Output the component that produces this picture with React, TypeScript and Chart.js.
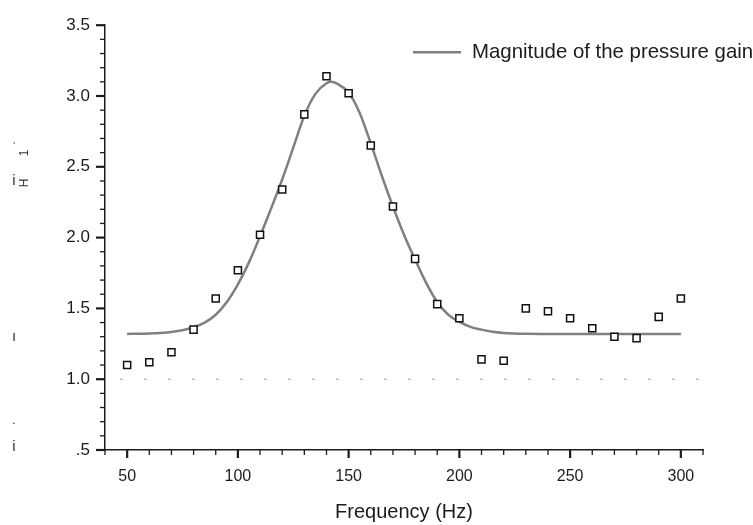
import React, { useEffect, useRef } from 'react';
import { Chart, registerables } from 'chart.js';

Chart.register(...registerables);

const FONT = '"Liberation Sans", Arial, Helvetica, sans-serif';
const TEXT_COLOR = '#1c1c1c';

// Measured points (squares)
const POINT_FREQ = [50, 60, 70, 80, 90, 100, 110, 120, 130, 140, 150, 160, 170, 180, 190, 200, 210, 220, 230, 240, 250, 260, 270, 280, 290, 300];
const POINT_GAIN = [1.10, 1.12, 1.19, 1.35, 1.57, 1.77, 2.02, 2.34, 2.87, 3.14, 3.02, 2.65, 2.22, 1.85, 1.53, 1.43, 1.14, 1.13, 1.50, 1.48, 1.43, 1.36, 1.30, 1.29, 1.44, 1.57];

// Fitted curve
const CURVE_FREQ = [50, 55, 60, 65, 70, 75, 80, 85, 90, 95, 100, 105, 110, 115, 120, 125, 130, 135, 140, 142, 145, 150, 155, 160, 165, 170, 175, 180, 185, 190, 195, 200, 205, 210, 215, 220, 230, 240, 250, 260, 270, 280, 290, 300];
const CURVE_GAIN = [1.320, 1.321, 1.323, 1.327, 1.334, 1.346, 1.367, 1.40, 1.455, 1.545, 1.67, 1.825, 2.01, 2.205, 2.41, 2.635, 2.86, 3.015, 3.09, 3.10, 3.085, 3.025, 2.88, 2.665, 2.435, 2.22, 2.02, 1.845, 1.68, 1.545, 1.455, 1.405, 1.37, 1.35, 1.335, 1.327, 1.321, 1.32, 1.32, 1.32, 1.32, 1.32, 1.32, 1.32];

// Dotted reference line
const REF_FREQ = [40, 310];
const REF_GAIN = [1.0, 1.0];

const X_TICKS = [50, 100, 150, 200, 250, 300];
const Y_TICKS = [0.5, 1.0, 1.5, 2.0, 2.5, 3.0, 3.5];
const Y_TICK_LABELS = ['.5', '1.0', '1.5', '2.0', '2.5', '3.0', '3.5'];

const LEGEND_LABEL = 'Magnitude of the pressure gain';
const X_TITLE = 'Frequency (Hz)';

const axisTicksPlugin = {
  id: 'axisTicks',
  afterDraw(chart: any) {
    const { ctx, chartArea, scales } = chart;
    const xs = scales.x;
    const ys = scales.y;
    ctx.save();
    ctx.strokeStyle = TEXT_COLOR;
    for (let i = 4; i <= 31; i++) {
      const v = i * 10;
      const major = i % 5 === 0;
      const px = xs.getPixelForValue(v);
      ctx.lineWidth = major ? 2.2 : 1.3;
      ctx.beginPath();
      ctx.moveTo(px, chartArea.bottom);
      ctx.lineTo(px, chartArea.bottom + (major ? 8 : 5));
      ctx.stroke();
    }
    for (let i = 5; i <= 35; i++) {
      const v = i / 10;
      const major = i % 5 === 0;
      const py = ys.getPixelForValue(v);
      ctx.lineWidth = major ? 2.2 : 1.3;
      ctx.beginPath();
      ctx.moveTo(chartArea.left, py);
      ctx.lineTo(chartArea.left - (major ? 9 : 5), py);
      ctx.stroke();
    }
    ctx.restore();
  },
};

const legendPlugin = {
  id: 'insideLegend',
  afterDraw(chart: any) {
    const { ctx, chartArea } = chart;
    const ds = chart.data.datasets[1];
    const x0 = chartArea.right - 290;
    const y0 = chartArea.top + 27;
    ctx.save();
    ctx.strokeStyle = ds.borderColor;
    ctx.lineWidth = ds.borderWidth;
    ctx.beginPath();
    ctx.moveTo(x0, y0);
    ctx.lineTo(x0 + 48, y0);
    ctx.stroke();
    ctx.fillStyle = TEXT_COLOR;
    ctx.font = `20.4px ${FONT}`;
    ctx.textBaseline = 'middle';
    ctx.textAlign = 'left';
    ctx.fillText(ds.label, x0 + 59, y0);
    ctx.restore();
  },
};

// Broken (partly missing glyph) y-axis title, as it appears in the reference
const yTitlePlugin = {
  id: 'brokenYTitle',
  afterDraw(chart: any) {
    const { ctx } = chart;
    ctx.save();
    ctx.fillStyle = '#333';
    ctx.textAlign = 'center';
    ctx.textBaseline = 'middle';
    const plain = [
      { t: "'", x: 14, y: 146, s: 9 },
      { t: 'i', x: 14, y: 181, s: 15 },
      { t: 'ı', x: 14, y: 337, s: 15 },
      { t: '.', x: 14, y: 421, s: 12 },
      { t: 'i', x: 14, y: 447, s: 15 },
    ];
    plain.forEach((g) => {
      ctx.font = `${g.s}px ${FONT}`;
      ctx.fillText(g.t, g.x, g.y);
    });
    const rotated = [
      { t: '1', x: 25, y: 153, s: 12 },
      { t: 'H', x: 25, y: 183, s: 12 },
    ];
    rotated.forEach((g) => {
      ctx.save();
      ctx.translate(g.x, g.y);
      ctx.rotate(-Math.PI / 2);
      ctx.font = `${g.s}px ${FONT}`;
      ctx.fillText(g.t, 0, 0);
      ctx.restore();
    });
    ctx.restore();
  },
};

export default function App() {
  const canvasRef = useRef<HTMLCanvasElement | null>(null);

  useEffect(() => {
    if (!canvasRef.current) return;
    Chart.defaults.font.family = FONT;
    Chart.defaults.color = TEXT_COLOR;

    const chart = new Chart(canvasRef.current, {
      type: 'line',
      data: {
        datasets: [
          {
            label: 'Measured',
            type: 'line',
            showLine: false,
            data: POINT_FREQ.map((f, i) => ({ x: f, y: POINT_GAIN[i] })),
            pointStyle: 'rect',
            pointRadius: 5,
            pointBorderWidth: 1.5,
            pointBorderColor: '#111111',
            pointBackgroundColor: '#ffffff',
            borderColor: '#111111',
            backgroundColor: '#ffffff',
            order: 0,
          },
          {
            label: LEGEND_LABEL,
            type: 'line',
            data: CURVE_FREQ.map((f, i) => ({ x: f, y: CURVE_GAIN[i] })),
            borderColor: '#808080',
            borderWidth: 2.5,
            pointRadius: 0,
            fill: false,
            cubicInterpolationMode: 'monotone',
            order: 1,
          },
          {
            label: 'Reference',
            type: 'line',
            data: REF_FREQ.map((f, i) => ({ x: f, y: REF_GAIN[i] })),
            borderColor: '#cccccc',
            borderWidth: 2,
            borderDash: [3, 21],
            borderDashOffset: 9,
            pointRadius: 0,
            fill: false,
            order: 2,
          },
        ],
      },
      options: {
        responsive: false,
        animation: false,
        layout: { padding: { left: 0, top: 17, right: 50, bottom: 0 } },
        plugins: {
          legend: { display: false },
          tooltip: { enabled: false },
        },
        scales: {
          x: {
            type: 'linear',
            min: 40,
            max: 310,
            afterBuildTicks: (s: any) => {
              s.ticks = X_TICKS.map((v) => ({ value: v }));
            },
            afterFit: (s: any) => {
              s.height = 75;
            },
            grid: { display: false, drawTicks: false },
            border: { display: true, color: TEXT_COLOR, width: 1.5 },
            ticks: {
              padding: 17,
              autoSkip: false,
              maxRotation: 0,
              color: TEXT_COLOR,
              font: { size: 16, family: FONT },
            },
            title: {
              display: true,
              text: X_TITLE,
              color: TEXT_COLOR,
              font: { size: 20, family: FONT },
              padding: { top: 0, bottom: 1 },
            },
          },
          y: {
            type: 'linear',
            min: 0.5,
            max: 3.5,
            afterBuildTicks: (s: any) => {
              s.ticks = Y_TICKS.map((v) => ({ value: v }));
            },
            afterFit: (s: any) => {
              s.width = 105;
            },
            grid: { display: false, drawTicks: false },
            border: { display: true, color: TEXT_COLOR, width: 1.5 },
            ticks: {
              padding: 15,
              autoSkip: false,
              color: TEXT_COLOR,
              font: { size: 17, family: FONT },
              callback: (value: any) => {
                const idx = Y_TICKS.indexOf(Number(value));
                return idx >= 0 ? Y_TICK_LABELS[idx] : '';
              },
            },
          },
        },
      },
      plugins: [axisTicksPlugin, legendPlugin, yTitlePlugin],
    } as any);

    return () => {
      chart.destroy();
    };
  }, []);

  return (
    <div style={{ position: 'absolute', left: 0, top: 0, width: 753, height: 525, background: '#ffffff' }}>
      <canvas ref={canvasRef} width={753} height={525} style={{ display: 'block', width: 753, height: 525 }} />
    </div>
  );
}
